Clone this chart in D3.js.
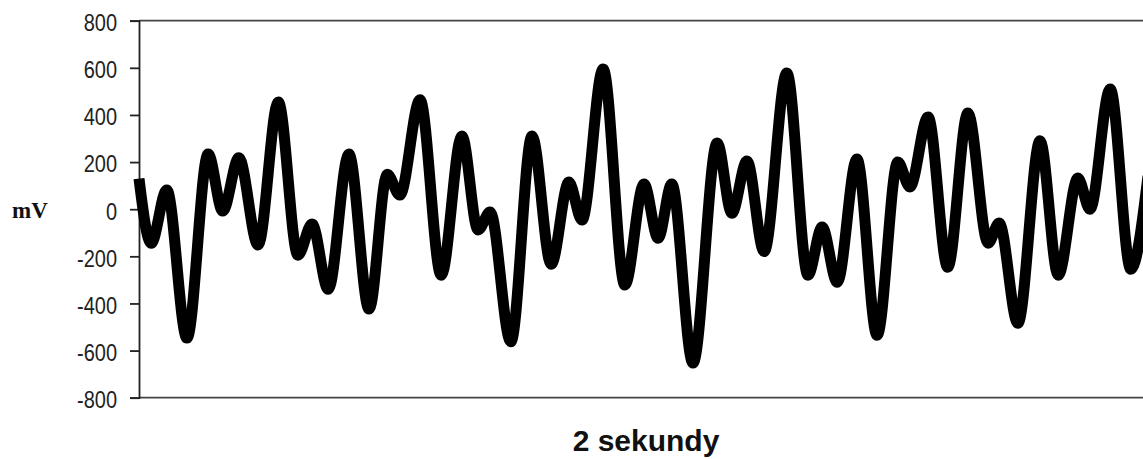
<!DOCTYPE html>
<html>
<head>
<meta charset="utf-8">
<script src="https://cdn.jsdelivr.net/npm/d3@7"></script>
<style>
  html, body { margin: 0; padding: 0; background: #fff; }
  svg { display: block; }
</style>
</head>
<body>
<svg id="chart" width="1143" height="459"></svg>
<script>
// time in ms (the window spans 2 seconds)
const times = [0, 24, 55, 95, 137, 166, 198, 236, 276, 315, 343, 375, 416, 456, 492, 517, 557, 599, 640, 672, 696, 737, 779, 817, 852, 878, 920, 963, 1001, 1029, 1056, 1098, 1146, 1175, 1205, 1239, 1284, 1326, 1354, 1384, 1423, 1463, 1504, 1528, 1564, 1603, 1643, 1683, 1705, 1742, 1786, 1822, 1861, 1885, 1925, 1966, 2000];
// voltage in mV
const values = [130, -145, 82, -547, 234, -8, 218, -152, 455, -195, -63, -340, 234, -424, 148, 60, 464, -280, 311, -88, -12, -563, 311, -234, 115, -46, 595, -322, 107, -123, 107, -653, 281, -17, 205, -180, 578, -280, -76, -310, 213, -535, 200, 94, 391, -246, 408, -144, -59, -484, 290, -280, 132, 0, 510, -255, 140];
const yTicks = [-800, -600, -400, -200, 0, 200, 400, 600, 800];
const yLabel = "mV";
const xLabel = "2 sekundy";

const data = times.map((t, i) => ({ t, v: values[i] }));

const svg = d3.select("#chart");
const mLeft = 139, mRight = 1148, mTop = 20.7, mBottom = 397.7;

const x = d3.scaleLinear().domain([0, 2000]).range([mLeft, mRight]);
const y = d3.scaleLinear().domain([-800, 800]).range([mBottom, mTop]);

// frame lines (top and bottom)
svg.append("line").attr("x1", mLeft).attr("x2", 1143).attr("y1", y(800)).attr("y2", y(800))
  .attr("stroke", "#444").attr("stroke-width", 1.8);
svg.append("line").attr("x1", mLeft).attr("x2", 1143).attr("y1", y(-800)).attr("y2", y(-800))
  .attr("stroke", "#444").attr("stroke-width", 1.8);

// y axis
const yAxis = svg.append("g")
  .attr("transform", `translate(${mLeft},0)`)
  .call(d3.axisLeft(y).tickValues(yTicks).tickSize(9).tickPadding(13).tickFormat(d => String(d)));
yAxis.select(".domain").attr("stroke", "#222").attr("stroke-width", 1.8);
yAxis.selectAll(".tick line").attr("stroke", "#222").attr("stroke-width", 1.8);
yAxis.selectAll(".tick text")
  .attr("font-family", "Arial, 'Liberation Sans', sans-serif")
  .attr("font-size", 20)
  .attr("fill", "#222")
  .attr("dy", "0.42em")
  .attr("transform", "scale(1,1.18)");

// series line
const line = d3.line()
  .x(d => x(d.t))
  .y(d => y(d.v))
  .curve(d3.curveMonotoneX);

svg.append("path")
  .datum(data)
  .attr("d", line)
  .attr("fill", "none")
  .attr("stroke", "#000")
  .attr("stroke-width", 11)
  .attr("stroke-linejoin", "round");

// labels
svg.append("text")
  .attr("x", 12).attr("y", 218)
  .attr("font-family", "'Liberation Serif', 'Times New Roman', serif")
  .attr("font-weight", "bold")
  .attr("font-size", 23)
  .attr("fill", "#111")
  .text(yLabel);

svg.append("text")
  .attr("x", 646).attr("y", 451)
  .attr("text-anchor", "middle")
  .attr("font-family", "Arial, 'Liberation Sans', sans-serif")
  .attr("font-weight", "bold")
  .attr("font-size", 30)
  .attr("fill", "#111")
  .text(xLabel);
</script>
</body>
</html>
